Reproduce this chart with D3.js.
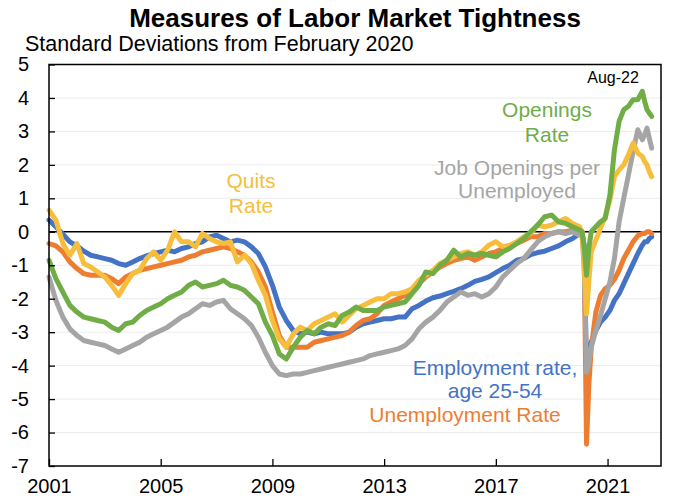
<!DOCTYPE html>
<html>
<head>
<meta charset="utf-8">
<script src="https://cdn.jsdelivr.net/npm/d3@7"></script>
<style>
  body { margin: 0; background: #fff; }
  svg { font-family: 'Liberation Sans', Arial, sans-serif; }
</style>
</head>
<body>
<svg id="chart" width="680" height="500"></svg>
<script>
'use strict';

/**
 * Data (standard deviations from Feb 2020)
 */
const months = [
  '2001-01', '2001-04', '2001-07', '2001-10', '2002-01', '2002-04', '2002-07', '2002-10',
  '2003-01', '2003-04', '2003-07', '2003-10', '2004-01', '2004-04', '2004-07', '2004-10',
  '2005-01', '2005-04', '2005-07', '2005-10', '2006-01', '2006-04', '2006-07', '2006-10',
  '2007-01', '2007-04', '2007-07', '2007-10', '2008-01', '2008-04', '2008-07', '2008-10',
  '2009-01', '2009-04', '2009-07', '2009-10', '2010-01', '2010-04', '2010-07', '2010-10',
  '2011-01', '2011-04', '2011-07', '2011-10', '2012-01', '2012-04', '2012-07', '2012-10',
  '2013-01', '2013-04', '2013-07', '2013-10', '2014-01', '2014-04', '2014-07', '2014-10',
  '2015-01', '2015-04', '2015-07', '2015-10', '2016-01', '2016-04', '2016-07', '2016-10',
  '2017-01', '2017-04', '2017-07', '2017-10', '2018-01', '2018-04', '2018-07', '2018-10',
  '2019-01', '2019-04', '2019-07', '2019-10',
  '2020-01', '2020-02', '2020-03', '2020-04', '2020-05', '2020-06', '2020-08', '2020-10', '2020-12',
  '2021-02', '2021-04', '2021-06', '2021-08', '2021-10', '2021-12',
  '2022-02', '2022-04', '2022-05', '2022-06', '2022-07', '2022-08'
];

const employmentRate = [
  0.35, 0.15, -0.07, -0.3, -0.42, -0.58, -0.7, -0.75,
  -0.8, -0.85, -0.95, -1.0, -0.9, -0.8, -0.72, -0.65,
  -0.6, -0.55, -0.6, -0.5, -0.45, -0.35, -0.3, -0.15,
  -0.1, -0.2, -0.3, -0.25, -0.3, -0.45, -0.65, -1.05,
  -1.6, -2.25, -2.65, -2.95, -3.05, -3.0, -3.05, -3.0,
  -3.05, -3.05, -3.05, -3.0, -2.85, -2.75, -2.7, -2.65,
  -2.6, -2.6, -2.55, -2.55, -2.3, -2.2, -2.07, -1.97,
  -1.92, -1.85, -1.78, -1.7, -1.6, -1.48, -1.42, -1.35,
  -1.22, -1.1, -1.0, -0.85, -0.8, -0.68, -0.62, -0.58,
  -0.5, -0.42, -0.3, -0.2,
  -0.05, 0, -0.4, -4.2, -3.7, -3.3, -2.95, -2.7, -2.55,
  -2.35, -2.05, -1.85, -1.55, -1.25, -0.95,
  -0.65, -0.4, -0.3, -0.3, -0.2, -0.15
];

const unemploymentRate = [
  -0.35, -0.42, -0.6, -0.9, -1.1, -1.25, -1.3, -1.3,
  -1.3, -1.4, -1.55, -1.35, -1.25, -1.15, -1.1, -1.05,
  -1.0, -0.95, -0.9, -0.85, -0.75, -0.7, -0.6, -0.55,
  -0.5, -0.45, -0.5, -0.6, -0.7, -0.9, -1.2, -1.65,
  -2.4, -3.1, -3.45, -3.45, -3.45, -3.45, -3.3, -3.25,
  -3.2, -3.15, -3.1, -3.0, -2.8, -2.65, -2.6, -2.45,
  -2.2, -2.1, -2.0, -1.9, -1.75, -1.55, -1.35, -1.2,
  -1.05, -0.95, -0.85, -0.8, -0.75, -0.85, -0.75, -0.65,
  -0.6, -0.5, -0.45, -0.35, -0.25, -0.15, -0.15, -0.05,
  -0.05, 0.0, 0.0, 0.05,
  0.05, 0, -0.6, -6.35, -4.6, -3.5, -2.4, -1.9, -1.7,
  -1.6, -1.42, -1.15, -0.8, -0.55, -0.3,
  -0.12, -0.05, -0.05, 0.0, 0.0, -0.05
];

const openingsPerUnemployed = [
  -1.35, -2.05, -2.55, -2.9, -3.1, -3.25, -3.3, -3.35,
  -3.4, -3.5, -3.6, -3.5, -3.4, -3.3, -3.15, -3.05,
  -2.95, -2.85, -2.7, -2.55, -2.45, -2.3, -2.15, -2.2,
  -2.1, -2.05, -2.3, -2.45, -2.6, -2.8, -3.15, -3.6,
  -4.0, -4.25, -4.3, -4.25, -4.25, -4.2, -4.15, -4.1,
  -4.05, -4.0, -3.95, -3.9, -3.85, -3.8, -3.7, -3.65,
  -3.6, -3.55, -3.5, -3.4, -3.2, -2.9, -2.7, -2.55,
  -2.35, -2.1, -1.95, -1.8, -1.9, -1.85, -1.95, -1.85,
  -1.65, -1.35, -1.15, -0.95, -0.8, -0.55, -0.3, -0.15,
  -0.05, 0.0, -0.05, 0.0,
  -0.1, 0, -1.0, -4.2, -3.95, -3.45, -2.95, -2.5, -2.0,
  -1.5, -0.8, 0.3, 1.0, 1.7, 2.4,
  3.05, 2.75, 2.9, 3.1, 2.8, 2.5
];

const quitsRate = [
  0.65, 0.35, -0.35, -0.7, -0.35, -0.95, -1.05, -1.2,
  -1.35, -1.6, -1.9, -1.55, -1.25, -1.15, -0.8, -0.6,
  -0.85, -0.55, 0.0, -0.3, -0.3, -0.45, -0.05, -0.2,
  -0.3, -0.35, -0.3, -0.9, -0.7, -0.95, -1.45, -1.9,
  -2.65, -3.2, -3.45, -3.05, -2.85, -2.95, -2.75, -2.65,
  -2.55, -2.45, -2.7, -2.5, -2.3, -2.2, -2.1, -2.0,
  -2.0, -1.85, -1.85, -1.8, -1.7, -1.45, -1.3, -1.15,
  -0.95, -0.85, -0.75, -0.65, -0.6, -0.7, -0.6, -0.4,
  -0.3, -0.45, -0.4, -0.3, -0.15, -0.05, 0.2, 0.15,
  0.2, 0.3, 0.4, 0.25,
  0.15, 0, -1.0, -2.45, -1.5, -0.6, -0.25, 0.1, 0.45,
  0.95, 1.65, 1.85, 2.0, 2.3, 2.65,
  2.35, 2.25, 2.1, 2.0, 1.8, 1.65
];

const openingsRate = [
  -0.85, -1.4, -1.8, -2.2, -2.4, -2.55, -2.6, -2.65,
  -2.7, -2.85, -2.95, -2.75, -2.7, -2.5, -2.35, -2.25,
  -2.15, -2.0, -1.9, -1.8, -1.6, -1.5, -1.65, -1.6,
  -1.55, -1.45, -1.6, -1.65, -1.75, -1.95, -2.15, -2.7,
  -3.1, -3.65, -3.8, -3.45, -3.15, -2.95, -3.05, -2.85,
  -2.75, -2.8, -2.5, -2.4, -2.25, -2.35, -2.35, -2.35,
  -2.25, -2.2, -2.15, -2.1, -1.85, -1.6, -1.2, -1.25,
  -1.0, -0.85, -0.55, -0.75, -0.65, -0.7, -0.65, -0.7,
  -0.75, -0.6, -0.5, -0.35, -0.2, 0.0, 0.2, 0.45,
  0.5, 0.3, 0.25, 0.15,
  0.05, 0, -0.45, -1.3, -0.5, 0.0, 0.15, 0.3, 0.4,
  1.1, 2.45, 3.3, 3.65, 3.75, 3.95,
  3.95, 4.2, 3.9, 3.65, 3.55, 3.45
];

const yTicks = [-7, -6, -5, -4, -3, -2, -1, 0, 1, 2, 3, 4, 5];
const xTickYears = [2001, 2005, 2009, 2013, 2017, 2021];

/**
 * Layout
 */
const PLOT = {left: 49, right: 661, top: 64.5, bottom: 466};
const LINE_WIDTH = 5;

// drawing order follows the spreadsheet: later series end up on top
const SERIES = [
  {values: employmentRate, color: '#4472C4'},
  {values: unemploymentRate, color: '#ED7D31'},
  {values: openingsPerUnemployed, color: '#A5A5A5'},
  {values: quitsRate, color: '#F6BE3C'},
  {values: openingsRate, color: '#70AD47'}
];

const LABELS = [
  {lines: ['Quits', 'Rate'], x: 251, y: [188, 213], color: '#F6BE3C'},
  {lines: ['Openings', 'Rate'], x: 547, y: [117, 142], color: '#70AD47'},
  {lines: ['Job Openings per', 'Unemployed'], x: 517, y: [175, 198], color: '#A5A5A5'},
  {lines: ['Employment rate,', 'age 25-54'], x: 495, y: [375, 398], color: '#4472C4'},
  {lines: ['Unemployment Rate'], x: 465, y: [422], color: '#ED7D31'}
];

const parseMonth = d3.timeParse('%Y-%m');
const dates = months.map(parseMonth);

const svg = d3.select('#chart');

const x = d3.scaleTime()
  .domain([new Date(2001, 0, 1), new Date(2022, 11, 1)])
  .range([PLOT.left, PLOT.right]);

const y = d3.scaleLinear()
  .domain([-7, 5])
  .range([PLOT.bottom, PLOT.top]);

function drawTitles() {
  svg.append('text')
    .attr('x', (PLOT.left + PLOT.right) / 2)
    .attr('y', 27)
    .attr('text-anchor', 'middle')
    .style('font-size', '26px')
    .style('font-weight', 'bold')
    .text('Measures of Labor Market Tightness');

  svg.append('text')
    .attr('x', 25)
    .attr('y', 51)
    .style('font-size', '21.5px')
    .text('Standard Deviations from February 2020');
}

function drawGrid() {
  // faint gridlines, the zero line is drawn in black
  svg.append('g')
    .selectAll('line')
    .data(yTicks.filter(t => t !== 0 && t !== 5 && t !== -7))
    .join('line')
    .attr('x1', PLOT.left)
    .attr('x2', PLOT.right)
    .attr('y1', d => y(d))
    .attr('y2', d => y(d))
    .attr('stroke', '#ececec')
    .attr('stroke-width', 1);

  svg.append('line')
    .attr('x1', PLOT.left)
    .attr('x2', PLOT.right)
    .attr('y1', y(0))
    .attr('y2', y(0))
    .attr('stroke', '#000')
    .attr('stroke-width', 1.5);
}

function drawAxes() {
  const xAxis = d3.axisBottom(x)
    .tickValues(xTickYears.map(yr => new Date(yr, 0, 1)))
    .tickFormat(d3.timeFormat('%Y'))
    .tickSizeInner(-7)
    .tickSizeOuter(0)
    .tickPadding(13);

  const yAxis = d3.axisLeft(y)
    .tickValues(yTicks)
    .tickFormat(d => String(d))
    .tickSizeInner(-6)
    .tickSizeOuter(0)
    .tickPadding(20);

  const gx = svg.append('g')
    .attr('transform', `translate(0,${PLOT.bottom})`)
    .call(xAxis);

  const gy = svg.append('g')
    .attr('transform', `translate(${PLOT.left},0)`)
    .call(yAxis);

  [gx, gy].forEach(g => {
    g.select('.domain').remove();
    g.selectAll('line').attr('stroke', '#000').attr('stroke-width', 1.3);
    g.selectAll('text')
      .attr('fill', '#000')
      .style('font-size', '20px')
      .style('font-family', "'Liberation Sans', Arial, sans-serif");
  });

  // plot area border
  svg.append('rect')
    .attr('x', PLOT.left)
    .attr('y', PLOT.top)
    .attr('width', PLOT.right - PLOT.left)
    .attr('height', PLOT.bottom - PLOT.top)
    .attr('fill', 'none')
    .attr('stroke', '#000')
    .attr('stroke-width', 1.5);
}

function drawSeries() {
  const line = d3.line()
    .x((d, i) => x(dates[i]))
    .y(d => y(d));

  svg.append('g')
    .selectAll('path')
    .data(SERIES)
    .join('path')
    .attr('d', s => line(s.values))
    .attr('fill', 'none')
    .attr('stroke', s => s.color)
    .attr('stroke-width', LINE_WIDTH)
    .attr('stroke-linejoin', 'round')
    .attr('stroke-linecap', 'round');
}

function drawLabels() {
  LABELS.forEach(label => {
    const t = svg.append('text')
      .attr('text-anchor', 'middle')
      .attr('fill', label.color)
      .style('font-size', '21px');

    label.lines.forEach((ln, i) => {
      t.append('tspan')
        .attr('x', label.x)
        .attr('y', label.y[i])
        .text(ln);
    });
  });

  svg.append('text')
    .attr('x', 613)
    .attr('y', 83)
    .attr('text-anchor', 'middle')
    .style('font-size', '16px')
    .text('Aug-22');
}

drawTitles();
drawGrid();
drawSeries();
drawAxes();
drawLabels();
</script>
</body>
</html>
